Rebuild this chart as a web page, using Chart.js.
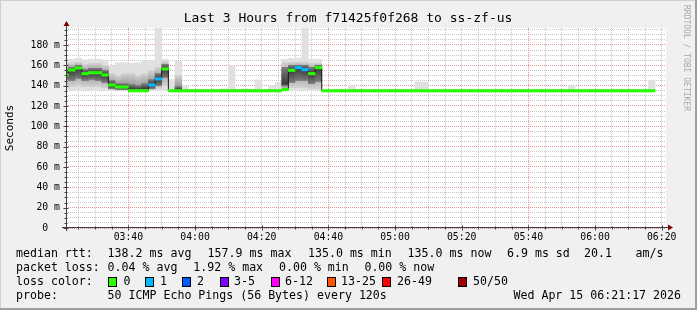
<!DOCTYPE html>
<html>
<head>
<meta charset="utf-8">
<script src="https://cdn.jsdelivr.net/npm/chart.js@4.4.1/dist/chart.umd.min.js"></script>
<style>
  html, body { margin: 0; padding: 0; background: #f0f0f0; }
  #wrap { width: 697px; height: 310px; }
</style>
</head>
<body>
<div id="wrap"><canvas id="smokeChart" width="697" height="310"></canvas></div>
<script>
// 2 minute steps, the first one ends 03:22 and the last one 06:18
const firstStepEnd = 3 * 60 + 22;
const stepMinutes = 2;

// median rtt per step (ms)
const medianRtt = [
  150.5, 155.4, 157.4, 151.8, 152.7, 152.7, 150.5, 140.7, 138.7, 138.7,
  135.0, 135.0, 135.0, 140.7, 146.6, 156.4, 135.0, 135.0, 135.0, 135.0,
  135.0, 135.0, 135.0, 135.0, 135.0, 135.0, 135.0, 135.0, 135.0, 135.0,
  135.0, 135.0, 135.0, 136.2, 155.1, 157.7, 155.7, 151.8, 157.7, 135.0,
  135.0, 135.0, 135.0, 135.0, 135.0, 135.0, 135.0, 135.0, 135.0, 135.0,
  135.0, 135.0, 135.0, 135.0, 135.0, 135.0, 135.0, 135.0, 135.0, 135.0,
  135.0, 135.0, 135.0, 135.0, 135.0, 135.0, 135.0, 135.0, 135.0, 135.0,
  135.0, 135.0, 135.0, 135.0, 135.0, 135.0, 135.0, 135.0, 135.0, 135.0,
  135.0, 135.0, 135.0, 135.0, 135.0, 135.0, 135.0, 135.0, 135.0
];

// steps that lost pings, and how many
const lossSteps = [13, 14, 35, 36];
const lossCounts = [1, 1, 1, 1];

const lossBands = ['0', '1', '2', '3-5', '6-12', '13-25', '26-49', '50/50'];
const lossColors = ['#26ff00', '#00b8ff', '#0059ff', '#7e00ff', '#ff00ff', '#ff5500', '#ff0000', '#a10000'];

// light smoke: lowest and highest ping of each step
const smokeSteps = [0, 1, 2, 3, 4, 5, 6, 7, 8, 9, 10, 11, 12, 13, 14, 15, 16, 17, 18,
  24, 25, 27, 28, 29, 31, 32, 33, 34, 35, 36, 37, 38, 43, 53, 54, 76, 88];
const smokeMin = [136, 135, 135, 135, 135, 135, 135, 135, 135, 135, 135, 135, 135, 135, 135, 135, 135, 135, 135,
  135, 135, 135, 135, 135, 135, 135, 135, 135, 135, 135, 135, 135, 135, 135, 135, 135, 135];
const smokeMax = [166, 166, 167, 165.3, 166, 166, 165, 159.3, 162.6, 162.6, 162, 162.6, 164.3, 164.3, 196.7, 166, 146, 164, 140.3,
  137, 160, 137, 136.5, 145.6, 140, 143, 166, 167, 167, 196.7, 166, 166, 140.4, 143.6, 143.6, 140.4, 144.9];

// denser smoke bands
const bandSteps = [0, 1, 2, 3, 4, 5, 6, 7, 8, 9, 10, 11, 12, 13, 14, 15, 17, 33, 34, 35, 36, 37, 38];
const midLo = [139, 139, 140, 139, 139, 139, 138, 136, 136, 136, 136, 136, 136, 136, 137, 140, 136, 137, 138, 138, 138, 137, 137];
const midHi = [162, 162, 163, 161, 162, 162, 160, 152, 150, 152, 152, 150, 152, 155, 158, 164, 150, 163, 163, 163, 163, 162, 162];
const coreLo = [146, 145, 147, 145, 146, 145, 143, 137, 136, 136, 136, 136, 136, 137, 140, 148, 136, 140, 143, 145, 145, 142, 144];
const coreHi = [156, 158, 160, 156, 157, 157, 155, 145, 142, 142, 141, 140, 142, 146, 152, 161, 139, 158, 160, 160, 160, 158, 160];

const timeTicks = ['03:40', '04:00', '04:20', '04:40', '05:00', '05:20', '05:40', '06:00', '06:20'];
const yTicks = [0, 20, 40, 60, 80, 100, 120, 140, 160, 180];

const rttStats = ['138.2 ms avg', '157.9 ms max', '135.0 ms min', '135.0 ms now', '6.9 ms sd', '20.1', 'am/s'];
const lossStats = ['0.04 % avg', '1.92 % max', '0.00 % min', '0.00 % now'];

const MONO = '"DejaVu Sans Mono", monospace';
const startMin = 3 * 60 + 21 + 17 / 60;
const endMin = startMin + 180;

function stepCenter(k) {
  return firstStepEnd + stepMinutes * k - stepMinutes / 2;
}

function bandOf(count) {
  if (count <= 0) return 0;
  if (count === 1) return 1;
  if (count === 2) return 2;
  if (count <= 5) return 3;
  if (count <= 12) return 4;
  if (count <= 25) return 5;
  if (count <= 49) return 6;
  return 7;
}

function hhmm(v) {
  const m = Math.round(v);
  return String(Math.floor(m / 60)).padStart(2, '0') + ':' + String(m % 60).padStart(2, '0');
}

// grey that gets darker towards the median of the step
function shade(edge, middle) {
  return function(ctx) {
    const y = ctx.chart.scales.y;
    if (!ctx.raw || !y) return middle;
    const top = y.getPixelForValue(ctx.raw.y[1]);
    const bot = y.getPixelForValue(ctx.raw.y[0]);
    if (!isFinite(top) || !isFinite(bot) || bot - top < 1) return middle;
    const med = y.getPixelForValue(medianRtt[ctx.raw.step]);
    const at = Math.min(0.9, Math.max(0.1, (med - top) / (bot - top)));
    const g = ctx.chart.ctx.createLinearGradient(0, top, 0, bot);
    g.addColorStop(0, edge);
    g.addColorStop(at, middle);
    g.addColorStop(1, edge);
    return g;
  };
}

const outerData = smokeSteps.map((k, i) => ({x: stepCenter(k), y: [smokeMin[i], smokeMax[i]], step: k}));
const midData = bandSteps.map((k, i) => ({x: stepCenter(k), y: [midLo[i], midHi[i]], step: k}));
const coreData = bandSteps.map((k, i) => ({x: stepCenter(k), y: [coreLo[i], coreHi[i]], step: k}));

const medianData = medianRtt.map((m, k) => ({x: stepCenter(k), y: [m - 1.2, m + 1.2], step: k}));
const medianColors = medianRtt.map((m, k) => {
  const i = lossSteps.indexOf(k);
  return lossColors[i < 0 ? 0 : bandOf(lossCounts[i])];
});

// thin dark line joining the median steps
const medianPath = medianRtt.map((m, k) => ({x: stepCenter(k) - stepMinutes / 2, y: m}));
medianPath.push({x: stepCenter(medianRtt.length - 1) + stepMinutes / 2, y: medianRtt[medianRtt.length - 1]});

const barBase = {type: 'bar', grouped: false, barPercentage: 1, categoryPercentage: 1, borderWidth: 0};

const gridMinor = 'rgba(143,143,143,0.5)';
const gridMajor = 'rgba(222,80,80,0.6)';

const chrome = {
  id: 'rrdChrome',
  beforeDraw(chart) {
    const {ctx, chartArea: a, width, height} = chart;
    ctx.save();
    ctx.fillStyle = '#f0f0f0';
    ctx.fillRect(0, 0, width, height);
    ctx.fillStyle = '#cfcfcf';
    ctx.fillRect(0, 0, width, 1);
    ctx.fillRect(0, 0, 1, height);
    ctx.fillStyle = '#9e9e9e';
    ctx.fillRect(0, height - 2, width, 2);
    ctx.fillRect(width - 2, 0, 2, height);
    ctx.fillStyle = '#ffffff';
    ctx.fillRect(a.left, a.top, a.right - a.left, a.bottom - a.top);
    ctx.restore();
  },
  afterDraw(chart) {
    const {ctx, chartArea: a, scales} = chart;
    ctx.save();

    // axes with arrows
    const ax = a.left + 0.5;
    const ay = a.bottom - 0.5;
    ctx.strokeStyle = '#404040';
    ctx.lineWidth = 1;
    ctx.beginPath();
    ctx.moveTo(a.left - 4, ay);
    ctx.lineTo(a.right + 2, ay);
    ctx.moveTo(ax, a.bottom + 3);
    ctx.lineTo(ax, a.top - 2);
    // small ticks on both axes
    scales.x.ticks.forEach(t => {
      const px = Math.round(scales.x.getPixelForValue(t.value)) + 0.5;
      const major = timeTicks.includes(hhmm(t.value));
      ctx.moveTo(px, ay - (major ? 2 : 1));
      ctx.lineTo(px, ay + (major ? 3 : 2));
    });
    scales.y.ticks.forEach(t => {
      const py = Math.round(scales.y.getPixelForValue(t.value)) + 0.5;
      const major = yTicks.includes(t.value);
      ctx.moveTo(ax - (major ? 3 : 2), py);
      ctx.lineTo(ax + (major ? 2 : 1), py);
    });
    ctx.stroke();
    ctx.fillStyle = '#7f0000';
    ctx.beginPath();
    ctx.moveTo(a.right + 7, ay);
    ctx.lineTo(a.right + 2, ay - 3);
    ctx.lineTo(a.right + 2, ay + 3);
    ctx.closePath();
    ctx.fill();
    ctx.beginPath();
    ctx.moveTo(ax, a.top - 7);
    ctx.lineTo(ax - 3, a.top - 2);
    ctx.lineTo(ax + 3, a.top - 2);
    ctx.closePath();
    ctx.fill();

    // title and side texts
    ctx.fillStyle = '#000';
    ctx.textBaseline = 'middle';
    ctx.textAlign = 'center';
    ctx.font = '13px ' + MONO;
    ctx.fillText('Last 3 Hours from f71425f0f268 to ss-zf-us', 348, 19);

    ctx.save();
    ctx.translate(10.5, 128);
    ctx.rotate(-Math.PI / 2);
    ctx.font = '11px ' + MONO;
    ctx.fillText('Seconds', 0, 0);
    ctx.restore();

    ctx.save();
    ctx.translate(686, 5);
    ctx.rotate(Math.PI / 2);
    ctx.textAlign = 'left';
    ctx.fillStyle = '#a8a8a8';
    ctx.font = '8px ' + MONO;
    ctx.fillText('RRDTOOL / TOBI OETIKER', 0, 0);
    ctx.restore();

    // legend block
    ctx.textAlign = 'left';
    ctx.font = '11.6px ' + MONO;
    const rows = [254, 268, 282, 296];
    ctx.fillText('median rtt:', 16, rows[0]);
    const rttX = [107.6, 207.6, 308, 407.6, 507, 584, 635.6];
    rttStats.forEach((s, i) => ctx.fillText(s, rttX[i], rows[0]));

    ctx.fillText('packet loss:', 16, rows[1]);
    const lossX = [107.6, 193.3, 279, 364.4];
    lossStats.forEach((s, i) => ctx.fillText(s, lossX[i], rows[1]));

    ctx.fillText('loss color:', 16, rows[2]);
    const boxX = [108, 145, 182, 219.6, 270.7, 326.7, 382, 458];
    const bandX = [123.6, 160, 197, 234, 285, 341, 397, 473];
    lossBands.forEach((s, i) => {
      const bx = Math.round(boxX[i]);
      ctx.fillStyle = lossColors[i];
      ctx.fillRect(bx, rows[2] - 4, 8, 9);
      ctx.strokeStyle = '#000';
      ctx.strokeRect(bx + 0.5, rows[2] - 4.5, 8, 9);
      ctx.fillStyle = '#000';
      ctx.fillText(s, bandX[i], rows[2]);
    });

    ctx.fillText('probe:', 16, rows[3]);
    ctx.fillText('50 ICMP Echo Pings (56 Bytes) every 120s', 107.6, rows[3]);
    ctx.textAlign = 'right';
    ctx.fillText('Wed Apr 15 06:21:17 2026', 681, rows[3]);
    ctx.restore();
  }
};

new Chart(document.getElementById('smokeChart'), {
  type: 'bar',
  data: {
    datasets: [
      Object.assign({}, barBase, {label: 'median', data: medianData, backgroundColor: medianColors, order: 0}),
      {type: 'line', label: 'median path', data: medianPath, stepped: true, borderColor: '#1a1a1a',
        borderWidth: 1, pointRadius: 0, fill: false, order: 1},
      Object.assign({}, barBase, {label: 'core', data: coreData, backgroundColor: shade('#7c7c7c', '#3a3a3a'), order: 2}),
      Object.assign({}, barBase, {label: 'mid', data: midData, backgroundColor: shade('#d2d2d2', '#8e8e8e'), order: 3}),
      Object.assign({}, barBase, {label: 'smoke', data: outerData, backgroundColor: '#e0e0e0', order: 4})
    ]
  },
  options: {
    responsive: false,
    devicePixelRatio: 1,
    animation: false,
    events: [],
    layout: {padding: {left: 0, top: 28, right: 31, bottom: 52}},
    plugins: {legend: {display: false}, tooltip: {enabled: false}, title: {display: false}},
    scales: {
      x: {
        type: 'linear',
        min: startMin,
        max: endMin,
        offset: false,
        z: 1,
        afterBuildTicks(scale) {
          const ticks = [];
          for (let m = Math.ceil(startMin / 5) * 5; m <= endMin; m += 5) ticks.push({value: m});
          scale.ticks = ticks;
        },
        afterFit(scale) { scale.height = 30; },
        grid: {
          offset: false,
          drawTicks: false,
          lineWidth: 1,
          color: ctx => (ctx.tick && Math.round(ctx.tick.value) % 60 === 40) ? gridMajor : gridMinor
        },
        border: {display: false, dash: [1, 1]},
        ticks: {
          autoSkip: false,
          maxRotation: 0,
          padding: 4,
          color: '#000',
          font: {family: MONO, size: 9.8},
          callback: v => timeTicks.includes(hhmm(v)) ? hhmm(v) : ''
        }
      },
      y: {
        min: 0,
        max: 196.7,
        z: 1,
        afterBuildTicks(scale) {
          const ticks = [];
          for (let v = 0; v <= 195; v += 5) ticks.push({value: v});
          scale.ticks = ticks;
        },
        afterFit(scale) { scale.width = 66; },
        grid: {
          drawTicks: false,
          lineWidth: 1,
          color: ctx => (ctx.tick && ctx.tick.value % 20 === 0) ? gridMajor : gridMinor
        },
        border: {display: false, dash: [1, 1]},
        ticks: {
          autoSkip: false,
          padding: 6,
          color: '#000',
          font: {family: MONO, size: 9.8},
          callback: v => yTicks.includes(v) ? (v === 0 ? '0  ' : v + ' m') : ''
        }
      }
    }
  },
  plugins: [chrome]
});
</script>
</body>
</html>
